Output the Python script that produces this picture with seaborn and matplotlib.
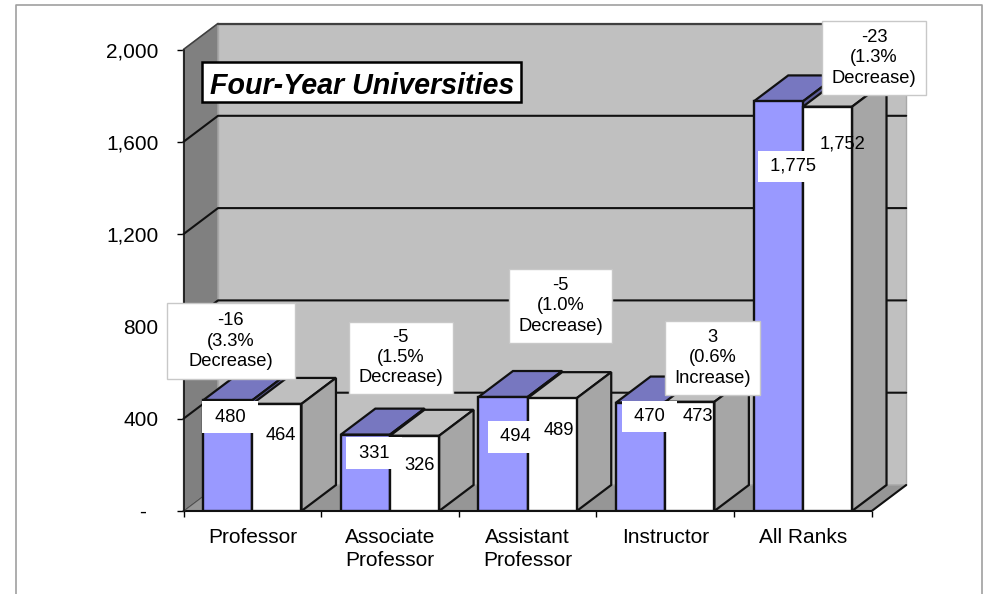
"""Four-year universities: 3D-look clustered bars drawn on a seaborn barplot."""

import matplotlib
matplotlib.use("Agg")
import matplotlib.pyplot as plt
import pandas as pd
import seaborn as sns
from matplotlib.patches import Polygon, Rectangle

categories = ["Professor", "Associate\nProfessor", "Assistant\nProfessor", "Instructor", "All Ranks"]
values_first = [480, 331, 494, 470, 1775]
values_second = [464, 326, 489, 473, 1752]
first_text = ["480", "331", "494", "470", "1,775"]
second_text = ["464", "326", "489", "473", "1,752"]
y_ticks = [0, 400, 800, 1200, 1600, 2000]
y_tick_labels = ["-  ", "400", "800", "1,200", "1,600", "2,000"]
change_text = [
    "-16\n(3.3%\nDecrease)",
    "-5\n(1.5%\nDecrease)",
    "-5\n(1.0%\nDecrease)",
    "3\n(0.6%\nIncrease)",
    "-23\n(1.3%\nDecrease)",
]

# label placement, in pixels of the 988x594 picture
first_offsets = [(2.3, -17), (8.6, -18.6), (12.7, -39.7), (9, -14), (14.6, -65)]
second_offsets = [(4, -32), (5.5, -30), (6.5, -32), (8, -15), (15, -37)]
change_boxes = [
    (166.7, 303, 295, 379),
    (349, 321.7, 452.5, 394),
    (509, 269, 612, 343),
    (665, 321, 760, 395),
    (822, 21, 926, 95),
]

W, H = 988, 594
LEFT, RIGHT, TOP, BOTTOM = 183.5, 871.7, 49.5, 511.0
DEPTH_PX_X, DEPTH_PX_Y = 34.5, 26.0
PX_TO_PT = 0.72

BLUE, BLUE_TOP, BLUE_SIDE = "#9999FF", "#7777C0", "#5C5C99"
WHITE, WHITE_TOP, WHITE_SIDE = "#FFFFFF", "#BFBFBF", "#A6A6A6"
WALL, WALL_LEFT, FLOOR = "#C0C0C0", "#808080", "#969696"
EDGE = "#111111"

sns.set_theme(style="white")
plt.rcParams["font.family"] = ["Liberation Sans", "DejaVu Sans"]

fig = plt.figure(figsize=(W / 100, H / 100), dpi=100)
ax = fig.add_axes([LEFT / W, 1 - BOTTOM / H, (RIGHT - LEFT) / W, (BOTTOM - TOP) / H])

df = pd.DataFrame({
    "rank": categories * 2,
    "count": values_first + values_second,
    "series": ["first"] * 5 + ["second"] * 5,
})
sns.barplot(
    data=df, x="rank", y="count", hue="series", order=categories,
    palette={"first": BLUE, "second": WHITE}, width=0.714, gap=0,
    edgecolor=EDGE, linewidth=1.7, saturation=1, legend=False, ax=ax,
)
ax.set_xlim(-0.5, 4.5)
ax.set_ylim(0, 2000)
ax.set_xlabel("")
ax.set_ylabel("")

# bars sorted left to right, taken before any other patch is added
bars = sorted(ax.patches, key=lambda p: p.get_x())

dx = DEPTH_PX_X * 5 / (RIGHT - LEFT)
dy = DEPTH_PX_Y * 2000 / (BOTTOM - TOP)


def add_poly(points, color, z, edge=EDGE, lw=1.6):
    ax.add_patch(Polygon(points, closed=True, facecolor=color, edgecolor=edge,
                         linewidth=lw, clip_on=False, zorder=z))


# walls and floor
x0, x1 = -0.5, 4.5
add_poly([(x0 + dx, dy), (x1 + dx, dy), (x1 + dx, 2000 + dy), (x0 + dx, 2000 + dy)], WALL, 1, edge="#A8A8A8", lw=1)
add_poly([(x0, 0), (x0 + dx, dy), (x0 + dx, 2000 + dy), (x0, 2000)], WALL_LEFT, 1, edge="#A8A8A8", lw=1)
add_poly([(x0, 0), (x1, 0), (x1 + dx, dy), (x0 + dx, dy)], FLOOR, 1, edge="#A8A8A8", lw=1)
ax.plot([x0 + dx, x1 + dx], [2000 + dy] * 2, color="#404040", lw=1.6, clip_on=False, zorder=1.5)
ax.plot([x0, x0 + dx], [2000, 2000 + dy], color="#404040", lw=1.2, clip_on=False, zorder=1.5)
ax.plot([x0, x1, x1 + dx], [0, 0, dy], color=EDGE, lw=1.5, clip_on=False, zorder=1.5)
ax.plot([x0, x0 + dx], [0, dy], color="#505050", lw=1, clip_on=False, zorder=1.5)
for tick in y_ticks[1:-1]:
    ax.plot([x0, x0 + dx, x1 + dx], [tick, tick + dy, tick + dy],
            color=EDGE, lw=1.5, clip_on=False, zorder=1.5)

# bar depth faces, left to right so nearer faces overlap correctly
for i, bar in enumerate(bars):
    xl, w, h = bar.get_x(), bar.get_width(), bar.get_height()
    is_first = i % 2 == 0
    top_c = BLUE_TOP if is_first else WHITE_TOP
    side_c = BLUE_SIDE if is_first else WHITE_SIDE
    z = 2 + i * 0.1
    add_poly([(xl, h), (xl + w, h), (xl + w + dx, h + dy), (xl + dx, h + dy)], top_c, z)
    add_poly([(xl + w, 0), (xl + w + dx, dy), (xl + w + dx, h + dy), (xl + w, h)], side_c, z)
    bar.set_zorder(z + 0.01)

# axes furniture
sns.despine(ax=ax, top=True, right=True, left=True, bottom=True)
ax.set_yticks(y_ticks)
ax.set_yticklabels(y_tick_labels, fontsize=15, color="black")
ax.tick_params(axis="y", length=5, width=1, color="black", left=True, pad=13)
ax.set_xticks(range(5))
ax.set_xticklabels(categories, fontsize=15, color="black", linespacing=1.26)
ax.tick_params(axis="x", length=0, pad=12)
ax.set_xticks([-0.5, 0.5, 1.5, 2.5, 3.5, 4.5], minor=True)
ax.tick_params(axis="x", which="minor", length=4, width=1, color="black", bottom=True)
ax.plot([x0, x0], [0, 2000], color=EDGE, lw=1.2, clip_on=False, zorder=1.5)


def px_to_fig(x, y):
    return x / W, 1 - y / H


# bar value labels
for i in range(5):
    b1, b2 = bars[2 * i], bars[2 * i + 1]
    ax.annotate(f" {first_text[i]} ", (b1.get_x() + b1.get_width() / 2, b1.get_height()),
                xytext=(first_offsets[i][0] * PX_TO_PT, first_offsets[i][1] * PX_TO_PT),
                textcoords="offset points", ha="center", va="center", fontsize=13.2,
                color="black", zorder=6,
                bbox=dict(facecolor="white", edgecolor="none", boxstyle="square,pad=0.4"))
    ax.annotate(second_text[i], (b2.get_x() + b2.get_width() / 2, b2.get_height()),
                xytext=(second_offsets[i][0] * PX_TO_PT, second_offsets[i][1] * PX_TO_PT),
                textcoords="offset points", ha="center", va="center", fontsize=13.2,
                color="black", zorder=6)

# change callouts
for label, (l, t, r, b) in zip(change_text, change_boxes):
    fx0, fy0 = px_to_fig(l, b)
    fx1, fy1 = px_to_fig(r, t)
    ax.add_patch(Rectangle((fx0, fy0), fx1 - fx0, fy1 - fy0, transform=fig.transFigure,
                           facecolor="white", edgecolor="#C8C8C8", linewidth=1, clip_on=False, zorder=7))
    cx, cy = px_to_fig((l + r) / 2, (t + b) / 2)
    ax.text(cx, cy, label, transform=fig.transFigure, ha="center", va="center",
            fontsize=13.2, linespacing=1.24, color="black", zorder=8, clip_on=False)

# title box
fx0, fy0 = px_to_fig(202.3, 102)
fx1, fy1 = px_to_fig(520.7, 62)
ax.add_patch(Rectangle((fx0, fy0), fx1 - fx0, fy1 - fy0, transform=fig.transFigure,
                       facecolor="white", edgecolor="black", linewidth=1.8, clip_on=False, zorder=7))
cx, cy = px_to_fig(362, 86)
ax.text(cx, cy, "Four-Year Universities", transform=fig.transFigure, ha="center", va="center",
        fontsize=20.6, fontweight="bold", fontstyle="italic", color="black", zorder=8, clip_on=False)

# outer chart frame
fig.add_artist(plt.Line2D([16 / W, 16 / W, 981.5 / W, 981.5 / W],
                          [0, 1 - 5 / H, 1 - 5 / H, 0], color="#A0A0A0", lw=1.2))

fig.savefig("out.png", dpi=100)
